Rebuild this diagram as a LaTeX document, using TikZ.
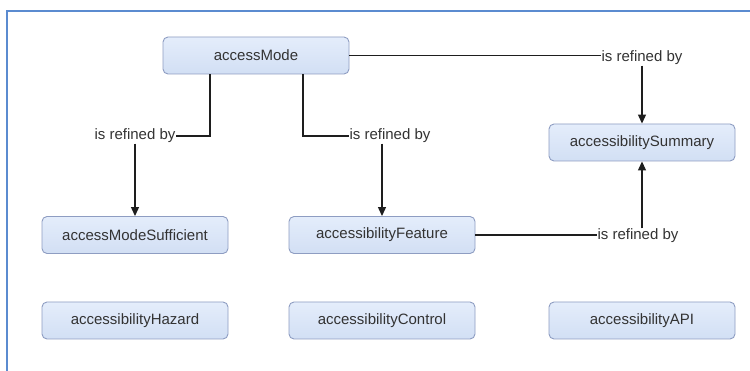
\documentclass[tikz,border=0pt]{standalone}
\usepackage{fontspec}
\setmainfont{Liberation Sans}
\usetikzlibrary{arrows.meta,positioning}
\definecolor{frameblue}{HTML}{5B8BD0}
\definecolor{boxedge}{HTML}{8E9DC2}
\definecolor{boxtop}{HTML}{E4EDFB}
\definecolor{boxbot}{HTML}{D2DFF4}
\definecolor{txt}{HTML}{333333}
\definecolor{wire}{HTML}{1E1E1E}
\tikzset{
  term/.style={draw=boxedge, line width=0.9pt, rounded corners=5pt,
    top color=boxtop, bottom color=boxbot,
    minimum width=186pt, minimum height=37pt, inner sep=0pt,
    text=txt, font=\fontsize{15pt}{17pt}\selectfont},
  rel/.style={fill=white, inner sep=0.5pt, text=txt,
    font=\fontsize{15pt}{17pt}\selectfont},
  wireline/.style={draw=wire, line width=1.2pt},
  arr/.style={wireline, -{Triangle[length=9pt,width=8pt]}}
}
\begin{document}
\begin{tikzpicture}[x=1pt,y=-1pt]
\useasboundingbox (0,0) rectangle (750,371);
\fill[white] (0,0) rectangle (750,371);
% outer frame: top and left edges only
\draw[frameblue, line width=1.6pt] (7,371) -- (7,11) -- (750,11);

% terms
\node[term] (mode) at (256,55.5) {accessMode};
\node[term] (suff) at (135,235) {accessModeSufficient};
\node[term] (feat) at (382,235) {accessibilityFeature};
\node[term] (summ) at (642,142.5) {accessibilitySummary};
\node[term] (haz)  at (135,320.5) {accessibilityHazard};
\node[term] (ctrl) at (382,320.5) {accessibilityControl};
\node[term] (api)  at (642,320.5) {accessibilityAPI};

% relation labels
\node[rel] (l1) at (135,136) {is refined by};
\node[rel] (l2) at (390,136) {is refined by};
\node[rel] (l3) at (642,58) {is refined by};
\node[rel] (l4) at (638,236) {is refined by};

% accessMode -> accessModeSufficient
\draw[wireline] ([xshift=-46pt]mode.south) |- (l1.east);
\draw[arr] (l1.south) -- (suff.north);
% accessMode -> accessibilityFeature
\draw[wireline] ([xshift=47pt]mode.south) |- (l2.west);
\draw[arr] (l2.south -| feat.north) -- (feat.north);
% accessMode -> accessibilitySummary
\draw[wireline] (mode.east) -- (l3.west |- mode.east);
\draw[arr] (l3.south) -- (summ.north);
% accessibilityFeature -> accessibilitySummary
\draw[wireline] (feat.east) -- (l4.west |- feat.east);
\draw[arr] (l4.north -| summ.south) -- (summ.south);
\end{tikzpicture}
\end{document}
